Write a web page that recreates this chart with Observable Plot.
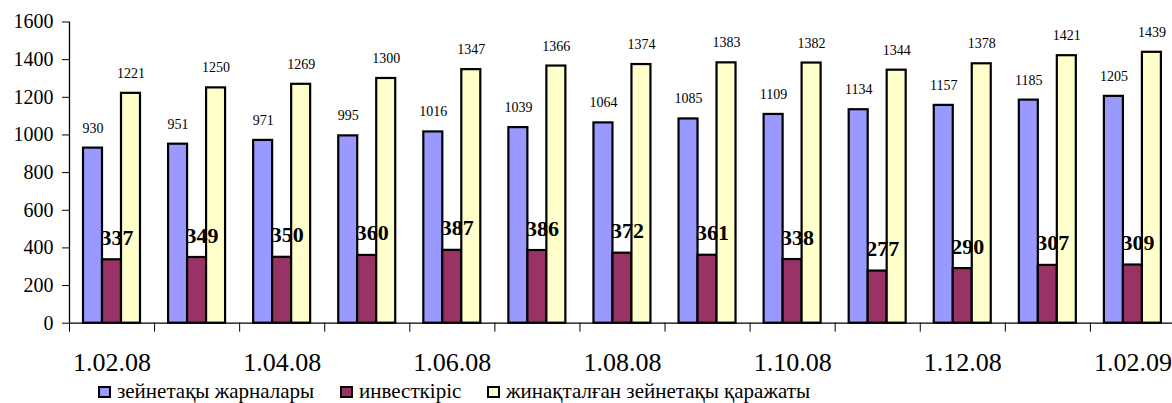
<!DOCTYPE html>
<html>
<head>
<meta charset="utf-8">
<script src="https://cdn.jsdelivr.net/npm/d3@7"></script>
<script src="https://cdn.jsdelivr.net/npm/@observablehq/plot@0.6"></script>
<style>
  body { margin: 0; background: #fff; font-family: "Liberation Serif", "DejaVu Serif", serif; }
  #chart svg { display: block; }
  .legend { position: relative; height: 23px; font-size: 21px; color: #000; }
  .legend .item { position: absolute; top: 0; display: flex; align-items: center; height: 23px; white-space: nowrap; }
  .legend .sw { width: 9px; height: 8px; border: 2px solid #000; margin-right: 6px; }
</style>
</head>
<body>
<div id="chart"></div>
<div class="legend" id="legend"></div>
<script>
const dates = ["1.02.08","1.03.08","1.04.08","1.05.08","1.06.08","1.07.08","1.08.08","1.09.08","1.10.08","1.11.08","1.12.08","1.01.09","1.02.09"];
const contributions = [930,951,971,995,1016,1039,1064,1085,1109,1134,1157,1185,1205];
const investIncome = [337,349,350,360,387,386,372,361,338,277,290,307,309];
const accumulated = [1221,1250,1269,1300,1347,1366,1374,1383,1382,1344,1378,1421,1439];
const seriesNames = ["зейнетақы жарналары","инвесткіріс","жинақталған зейнетақы қаражаты"];
const seriesColors = ["#9999ff","#993366","#ffffcc"];
const yTicks = [0,200,400,600,800,1000,1200,1400,1600];

// group layout (fractions of one group slot)
const outerPad = 0.1646, barW = 0.2233;
const rows = [];
[contributions, investIncome, accumulated].forEach((vals, s) => {
  vals.forEach((v, i) => {
    const x1 = i + outerPad + s * barW;
    rows.push({s, i, v, x1, x2: x1 + barW, xm: x1 + barW / 2, name: seriesNames[s]});
  });
});

const font = '"Liberation Serif", "DejaVu Serif", serif';
const plot = Plot.plot({
  width: 1172,
  height: 380,
  marginLeft: 69,
  marginRight: 0,
  marginTop: 21.5,
  marginBottom: 57.3,
  style: {fontFamily: font, background: "#fff", color: "#000"},
  x: {type: "linear", domain: [0, 12.965], axis: null},
  y: {domain: [0, 1600], axis: null},
  color: {domain: seriesNames, range: seriesColors},
  marks: [
    Plot.rectY(rows, {x1: "x1", x2: "x2", y1: 0, y2: "v", fill: "name", stroke: "#000", strokeWidth: 2.2}),
    Plot.ruleY([0], {stroke: "#000", strokeWidth: 1.3}),
    Plot.ruleX([0], {stroke: "#000", strokeWidth: 1.3}),
    Plot.axisY({ticks: yTicks, tickSize: 7, tickPadding: 9, fontSize: 20, label: null, tickFormat: d => String(d)}),
    Plot.axisX({ticks: d3.range(0, 13), tickSize: 9, label: null, tickFormat: () => "", anchor: "bottom"}),
    Plot.axisX({ticks: d3.range(0, 13, 2).map(i => i + 0.5), tickSize: 0, tickPadding: 29, fontSize: 26, label: null,
      tickFormat: d => dates[Math.round(d - 0.5)], anchor: "bottom"}),
    Plot.text(rows.filter(d => d.s !== 1), {x: "xm", y: "v", text: d => String(d.v), dy: -20, fontSize: 14, lineAnchor: "middle", fill: "#000"}),
    Plot.text(rows.filter(d => d.s === 1), {x: "xm", y: "v", text: d => String(d.v), dx: 5, dy: -22, fontSize: 22, fontWeight: "bold", lineAnchor: "middle", fill: "#000"})
  ]
});
document.getElementById("chart").appendChild(plot);

const legend = document.getElementById("legend");
const lefts = [98, 340, 487];
seriesNames.forEach((n, k) => {
  const item = document.createElement("div");
  item.className = "item";
  item.style.left = lefts[k] + "px";
  const sw = document.createElement("span");
  sw.className = "sw";
  sw.style.background = seriesColors[k];
  const t = document.createElement("span");
  t.textContent = n;
  item.appendChild(sw); item.appendChild(t);
  legend.appendChild(item);
});
</script>
</body>
</html>
